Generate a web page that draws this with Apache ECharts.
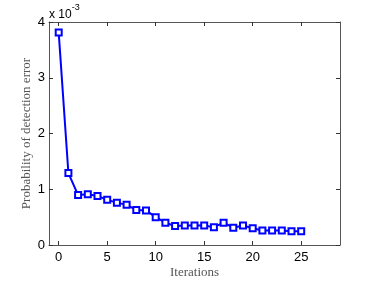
<!DOCTYPE html>
<html>
<head>
<meta charset="utf-8">
<script src="https://cdn.jsdelivr.net/npm/echarts@6/dist/echarts.min.js"></script>
<style>
  html, body { margin: 0; padding: 0; background: #fff; }
  #chart { width: 374px; height: 281px; }
</style>
</head>
<body>
<div id="chart"></div>
<script>
// iterations and error probability (x 10^-3)
const iterations = [0, 1, 2, 3, 4, 5, 6, 7, 8, 9, 10, 11, 12, 13, 14, 15, 16, 17, 18, 19, 20, 21, 22, 23, 24, 25];
const errorProb = [3.81, 1.29, 0.895, 0.91, 0.88, 0.81, 0.76, 0.72, 0.63, 0.62, 0.50, 0.40, 0.34, 0.35, 0.35, 0.35, 0.32, 0.40, 0.31, 0.35, 0.30, 0.26, 0.26, 0.26, 0.245, 0.245];
const xTicks = [0, 5, 10, 15, 20, 25];

const myChart = echarts.init(document.getElementById("chart"));

const tickFont = { fontFamily: "Liberation Sans", fontSize: 13, color: "#000" };
const boxLine = { show: true, onZero: false, lineStyle: { color: "#555", width: 1 } };
const innerTick = { show: true, inside: true, length: 4, lineStyle: { color: "#333" } };

let option = {
  animation: false,
  grid: { left: 49, right: 34, top: 22, bottom: 36, outerBoundsMode: "none" },
  graphic: [
    {
      type: "text",
      left: 49,
      top: 3,
      style: {
        text: "{a|x 10}{b|-3}",
        rich: {
          a: { fontFamily: "Liberation Sans", fontSize: 12, color: "#000", padding: [6, 0, 0, 0] },
          b: { fontFamily: "Liberation Sans", fontSize: 9, color: "#000", verticalAlign: "top" },
        },
      },
    },
  ],
  xAxis: [
    {
      type: "value",
      min: -1,
      max: 29,
      axisLine: boxLine,
      axisTick: Object.assign({}, innerTick, { customValues: xTicks }),
      axisLabel: Object.assign({}, tickFont, { customValues: xTicks, margin: 6 }),
      splitLine: { show: false },
      name: "Iterations",
      nameLocation: "middle",
      nameGap: 21,
      nameMoveOverlap: false,
      nameTextStyle: { fontFamily: "Liberation Serif", fontSize: 13, color: "#555", verticalAlign: "top" },
    },
    {
      type: "value",
      position: "top",
      min: -1,
      max: 29,
      axisLine: boxLine,
      axisTick: Object.assign({}, innerTick, { customValues: xTicks }),
      axisLabel: { show: false },
      splitLine: { show: false },
    },
  ],
  yAxis: [
    {
      type: "value",
      min: 0,
      max: 4,
      interval: 1,
      axisLine: boxLine,
      axisTick: innerTick,
      axisLabel: Object.assign({}, tickFont, { margin: 4 }),
      splitLine: { show: false },
      name: "Probability of detection error",
      nameLocation: "middle",
      nameGap: 16,
      nameMoveOverlap: false,
      nameTextStyle: { fontFamily: "Liberation Serif", fontSize: 13, color: "#555", verticalAlign: "bottom" },
    },
    {
      type: "value",
      position: "right",
      min: 0,
      max: 4,
      interval: 1,
      axisLine: boxLine,
      axisTick: innerTick,
      axisLabel: { show: false },
      splitLine: { show: false },
    },
  ],
  series: [
    {
      type: "line",
      data: iterations.map((x, i) => [x, errorProb[i]]),
      symbol: "emptyRect",
      symbolSize: 6,
      showAllSymbol: true,
      lineStyle: { color: "#0000ff", width: 2 },
      itemStyle: { color: "#0000ff", borderWidth: 2 },
    },
  ],
};
myChart.setOption(option);
</script>
</body>
</html>
